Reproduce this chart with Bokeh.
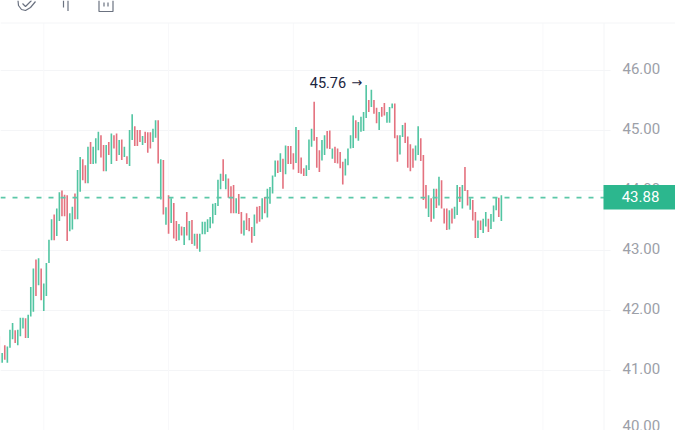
from bokeh.embed import file_html
from bokeh.models import BoxAnnotation, ColumnDataSource, FixedTicker, Label, LinearAxis, NumeralTickFormatter, Range1d, Span
from bokeh.plotting import figure
from bokeh.resources import INLINE

highs = [
    41.57,41.29,41.42,41.40,41.68,41.79,41.67,41.68,41.88,41.88,
    41.87,41.93,42.39,42.70,42.85,42.87,42.70,42.45,42.79,43.18,
    43.52,43.60,43.70,43.97,44.00,43.93,43.92,43.62,43.73,43.95,
    44.34,44.56,44.52,44.42,44.73,44.81,44.73,44.87,44.98,44.92,
    44.76,44.76,44.81,44.95,44.92,44.95,44.84,44.85,44.73,44.57,
    45.01,45.27,45.07,45.01,45.01,44.91,44.98,44.97,44.97,45.03,
    45.17,45.17,44.52,44.51,43.72,43.92,43.87,43.79,43.49,43.44,
    43.40,43.39,43.64,43.49,43.51,43.28,43.28,43.28,43.48,43.48,
    43.52,43.56,43.78,43.79,44.18,44.28,44.52,44.27,44.20,44.07,
    44.09,43.87,43.94,43.64,43.50,43.62,43.54,43.39,43.60,43.73,
    43.74,43.87,43.89,44.03,44.06,44.25,44.50,44.50,44.62,44.53,
    44.75,44.74,44.74,44.62,45.06,45.01,44.55,44.37,44.42,44.85,
    45.03,45.48,44.89,44.67,44.84,44.92,44.99,45.00,44.70,44.73,
    44.70,44.64,44.48,44.53,44.70,44.92,45.25,45.17,45.14,45.23,
    45.31,45.76,45.51,45.68,45.51,45.38,45.31,45.39,45.46,45.31,
    45.39,45.45,45.45,44.92,44.92,45.09,45.13,44.90,44.77,44.70,
    44.75,45.07,44.87,44.59,44.09,43.92,43.87,44.03,44.03,44.23,
    44.17,43.70,43.70,43.67,43.70,43.73,44.09,44.06,44.09,44.39,
    44.01,43.87,43.84,43.64,43.50,43.50,43.53,43.64,43.53,43.61,
    43.75,43.89,43.88,43.92,
]
lows = [
    41.12,41.13,41.18,41.13,41.38,41.52,41.46,41.42,41.57,41.70,
    41.54,41.54,41.90,41.98,42.24,42.42,42.17,41.99,42.24,42.79,
    43.17,43.17,43.24,43.49,43.57,43.57,43.16,43.32,43.35,43.52,
    43.52,43.98,44.17,44.12,44.12,44.44,44.44,44.45,44.67,44.55,
    44.32,44.32,44.59,44.44,44.70,44.49,44.59,44.51,44.56,44.44,
    44.41,44.84,44.74,44.74,44.81,44.76,44.79,44.63,44.70,44.81,
    44.88,44.45,43.85,43.60,43.43,43.28,43.46,43.20,43.16,43.17,
    43.25,43.09,43.25,43.17,43.11,43.08,43.03,42.98,43.27,43.27,
    43.31,43.37,43.45,43.59,43.74,44.02,44.16,44.02,43.88,43.62,
    43.62,43.62,43.61,43.28,43.25,43.34,43.32,43.13,43.24,43.45,
    43.48,43.52,43.62,43.55,43.78,43.95,44.23,44.29,44.31,44.03,
    44.27,44.44,44.44,44.35,44.46,44.29,44.28,44.24,44.24,44.34,
    44.73,44.83,44.38,44.31,44.50,44.59,44.70,44.69,44.53,44.46,
    44.45,44.37,44.10,44.25,44.42,44.70,44.71,44.87,44.83,44.98,
    44.99,45.21,45.31,45.39,45.28,45.12,45.01,45.23,45.25,45.13,
    45.13,45.37,44.87,44.48,44.60,44.89,44.79,44.38,44.32,44.38,
    44.50,44.59,44.49,43.84,43.70,43.56,43.48,43.53,43.71,43.75,
    43.70,43.45,43.34,43.35,43.45,43.53,43.59,43.81,43.70,43.99,
    43.75,43.68,43.50,43.21,43.21,43.34,43.29,43.40,43.31,43.36,
    43.48,43.67,43.56,43.49,
]
directions = (
    "rgrgggrggg" "rgggrgrggg" "grggrrrggr" "ggrrgrgggr" "rgrgrrgrgr"
    "ggrrrgrrrg" "grgrgrgrrg" "rgrgrgrggg" "ggggggrgrr" "rgrrgrrrgr"
    "rgrggggrgr" "grrrgrrrgg" "grrrggrrgr" "rrrggggrgg" "ggrgrrgrrg"
    "ggrrggrrrr" "ggrrrgrgrg" "rrrgrggrgr" "rgrrgrggrg" "ggrg"
)
y_ticks = [40, 41, 42, 43, 44, 45, 46]
time_ticks = [17, 65, 113, 161, 209]
last_price = 43.88
peak_price = 45.76
peak_index = 141

GREEN, RED = "#52c5a2", "#e4727f"
GRID = "#f4f5f7"
W, H = 675, 430


def ix(px):
    return (px + 0.93) / 2.6


def pr(py):
    return 47.1667 - py / 60


p = figure(
    width=W, height=H, output_backend="svg", toolbar_location=None,
    x_range=Range1d(ix(0), ix(W)), y_range=Range1d(pr(H), pr(0)),
    x_axis_location=None, y_axis_location=None, min_border=0,
    background_fill_color="white", border_fill_color="white",
    styles={"position": "absolute", "left": "0", "top": "0"},
)
p.outline_line_color = None
p.grid.visible = False
# the reference's tick texts sit 1.5px above their grid lines
p.extra_y_ranges = {"labels": Range1d(pr(H) - 0.03, pr(0) - 0.03)}

p.segment([ix(0)] * len(y_ticks), y_ticks, [ix(610)] * len(y_ticks), y_ticks,
          line_color=GRID, line_width=1, level="underlay")
p.segment(time_ticks, [pr(22.5)] * len(time_ticks), time_ticks, [pr(H)] * len(time_ticks),
          line_color="#f8f8fa", line_width=1, level="underlay")
p.segment([ix(603.5)], [pr(22.5)], [ix(603.5)], [pr(H)], line_color=GRID, line_width=1, level="underlay")
p.segment([ix(0)], [pr(22.5)], [ix(W)], [pr(22.5)], line_color=GRID, line_width=1, level="underlay")

ICON = "#6b7280"
p.line([ix(v) for v in (17.5, 18, 21, 25, 30, 35)], [pr(v) for v in (0, 5, 9, 10, 7, 1)], line_color=ICON, line_width=1.2)
p.line([ix(v) for v in (22, 25, 31)], [pr(v) for v in (3, 6, 0)], line_color=ICON, line_width=1.2)
p.segment([ix(63), ix(67.5)], [pr(0)] * 2, [ix(63), ix(67.5)], [pr(7), pr(10.5)], line_color=ICON, line_width=1.2)
p.line([ix(v) for v in (98.5, 98.5, 112.5, 112.5)], [pr(v) for v in (0, 11, 11, 0)], line_color=ICON, line_width=1.2)
p.segment([ix(103.5), ix(107.5)], [pr(2)] * 2, [ix(103.5), ix(107.5)], [pr(6)] * 2, line_color=ICON, line_width=1.2)

source = ColumnDataSource(dict(
    x=list(range(len(highs))), top=highs, bottom=lows,
    color=[GREEN if d == "g" else RED for d in directions],
))
p.vbar(x="x", top="top", bottom="bottom", width=0.62, fill_color="color", line_color=None, source=source)

axis = LinearAxis(
    y_range_name="labels",
    ticker=FixedTicker(ticks=y_ticks), formatter=NumeralTickFormatter(format="0.00"),
    fixed_location=ix(603), axis_line_color=None, major_tick_line_color=None,
    minor_tick_line_color=None, major_label_standoff=13,
    major_label_text_color="#9ca0a8", major_label_text_font="Roboto",
    major_label_text_font_size="15px",
)
p.add_layout(axis, "right")

p.add_layout(Span(location=last_price, dimension="width", line_color="#5cc8a8", line_width=1.8, line_dash=[5, 7]))
p.add_layout(BoxAnnotation(left=ix(603), right=ix(W), bottom=pr(209), top=pr(184.5),
                           fill_color="#2cb78e", fill_alpha=1, line_color=None))
p.add_layout(Label(x=ix(640), y=last_price, y_offset=1, text=f"{last_price:.2f}", text_color="white",
                   text_font="Roboto", text_font_size="15px", text_align="center", text_baseline="middle"))
p.add_layout(Label(x=peak_index, y=peak_price, x_offset=-20, y_offset=2, text=f"{peak_price:.2f}", text_color="#1b2540",
                   text_font="Roboto", text_font_size="14.5px", text_align="right", text_baseline="middle"))
p.add_layout(Label(x=peak_index, y=peak_price, x_offset=-4, y_offset=2, text="\u2192", text_color="#1b2540",
                   text_font="DejaVu Sans", text_font_size="13px", text_align="right", text_baseline="middle"))

open("out.html", "w").write(file_html(p, INLINE))
